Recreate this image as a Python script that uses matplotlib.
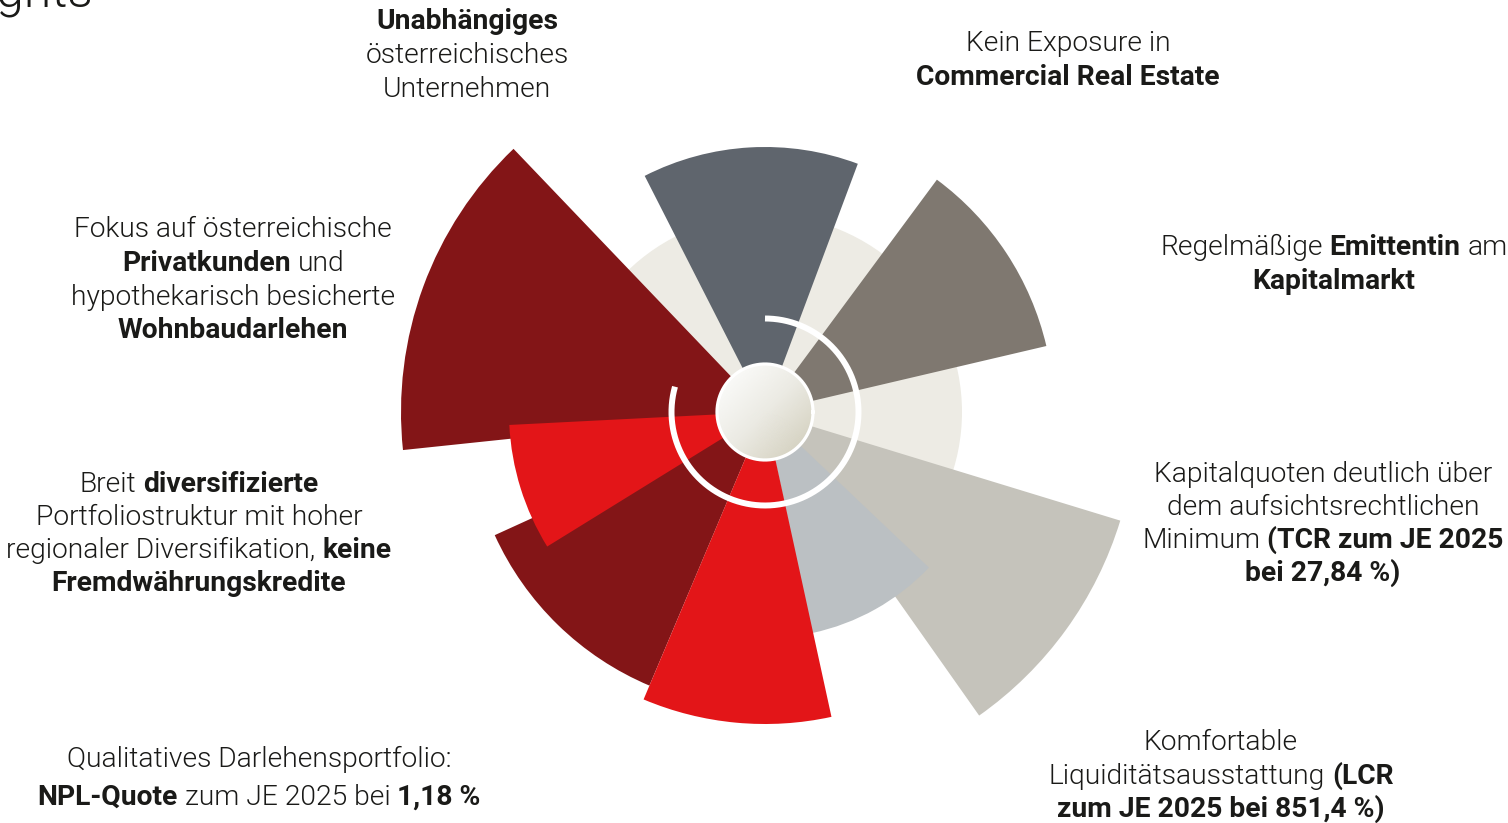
import os
import numpy as np
import matplotlib
matplotlib.use("Agg")
import matplotlib.pyplot as plt
from matplotlib import font_manager as fm
from matplotlib.colors import LinearSegmentedColormap

# ---------------- data ----------------
segment_names = ["Unabhängig", "Kapitalmarkt", "Kapitalquoten", "Liquidität",
                 "Privatkunden", "Diversifikation", "NPL-Quote", "Regionen"]
segment_start_deg = [69.5, 13.2, -54.8, -78.0, 133.7, 204.5, 247.1, 182.9]
segment_end_deg = [117.0, 53.5, -17.0, -43.5, 186.0, 247.1, 282.3, 211.7]
segment_radius = [265, 289, 371.5, 226, 364, 297, 312, 256]
backdrop_radius = 197
hub_radius = 48
ring_radius = 93.5
ring_start_deg, ring_end_deg = 164.3, 450.0

title_text = "Highlights"
label_unabhaengig = ["**Unabhängiges**", "österreichisches", "Unternehmen"]
label_exposure = ["Kein Exposure in", "**Commercial Real Estate**"]
label_emittentin = ["Regelmäßige **Emittentin** am", "**Kapitalmarkt**"]
label_kapital = ["Kapitalquoten deutlich über", "dem aufsichtsrechtlichen",
                 "Minimum **(TCR zum JE 2025**", "**bei 27,84 %)**"]
label_liquiditaet = ["Komfortable", "Liquiditätsausstattung **(LCR**",
                     "**zum JE 2025 bei 851,4 %)**"]
label_npl = ["Qualitatives Darlehensportfolio:",
             "**NPL-Quote** zum JE 2025 bei **1,18 %**"]
label_divers = ["Breit **diversifizierte**", "Portfoliostruktur mit hoher",
                "regionaler Diversifikation, **keine**", "**Fremdwährungskredite**"]
label_fokus = ["Fokus auf österreichische", "**Privatkunden** und",
               "hypothekarisch besicherte", "**Wohnbaudarlehen**"]

# ---------------- style / layout ----------------
segment_colors = ["#5f656d", "#7f7870", "#c5c3bb", "#bbc0c3",
                  "#831517", "#831517", "#e31518", "#e31518"]
backdrop_color = "#edebe4"
text_color = "#1a1a18"
FAMILY = ["Roboto", "DejaVu Sans"]
FS = 20.3

W, H, DPI = 1508, 823, 100
CX, CY, R = 765, 412, 400  # chart centre in pixels, axes half size


def roboto(tag, weight, size):
    for f in fm.findSystemFonts():
        b = os.path.splitext(os.path.basename(f))[0].lower()
        if b == "roboto-" + tag:
            return fm.FontProperties(fname=f, size=size)
    return fm.FontProperties(family=FAMILY, weight=weight, size=size)


FONTS = {"light": roboto("light", "light", FS), "bold": roboto("bold", "bold", FS)}
TITLE_FONT = roboto("light", "light", 36)

fig = plt.figure(figsize=(W / DPI, H / DPI), dpi=DPI)
fig.patch.set_facecolor("white")

ax = fig.add_axes([(CX - R) / W, (H - CY - R) / H, 2 * R / W, 2 * R / H],
                  projection="polar")
ax.set_ylim(0, R)
ax.set_axis_off()

# backdrop disk
ax.bar(0, backdrop_radius, width=2 * np.pi, bottom=0, color=backdrop_color,
       edgecolor="none", linewidth=0, align="center")

start = np.deg2rad(segment_start_deg)
end = np.deg2rad(segment_end_deg)
ax.bar((start + end) / 2, segment_radius, width=end - start, bottom=0,
       color=segment_colors, edgecolor="none", linewidth=0, align="center")

# gradient hub
th = np.linspace(0, 2 * np.pi, 361)
rr = np.linspace(0, hub_radius, 40)
TH, RR = np.meshgrid(th, rr)
X, Y = RR * np.cos(TH), RR * np.sin(TH)
proj = (X - Y) / (np.sqrt(2) * hub_radius)
hub_cmap = LinearSegmentedColormap.from_list("hub", ["#fafaf8", "#ecebe4", "#d7d4c4"])
ax.pcolormesh(TH, RR, proj, cmap=hub_cmap, vmin=-1, vmax=1, shading="gouraud",
              zorder=5)
ax.plot(th, np.full_like(th, hub_radius), color="white", lw=2.3, zorder=6)

# white ring
ring_th = np.deg2rad(np.linspace(ring_start_deg, ring_end_deg, 500))
ax.plot(ring_th, np.full_like(ring_th, ring_radius), color="white", lw=4.3,
        solid_capstyle="butt", zorder=6)
ax.set_ylim(0, R)

# ---------------- text ----------------
renderer = fig.canvas.get_renderer()
_cache = {}


def tw(s, weight):
    key = (s, weight)
    if key not in _cache:
        t = fig.text(0, 0, s, fontproperties=FONTS[weight])
        _cache[key] = t.get_window_extent(renderer).width
        t.remove()
    return _cache[key]


def space_w(weight):
    return tw("n n", weight) - tw("nn", weight)


def parse(line):
    parts = line.split("**")
    segs = []
    for i, p in enumerate(parts):
        p = p.strip()
        if p:
            segs.append((p, "bold" if i % 2 else "light"))
    return segs


def rich_line(line, cx, base_y):
    segs = parse(line)
    widths = [tw(s, w) for s, w in segs]
    gaps = [space_w(segs[i][1]) for i in range(len(segs) - 1)]
    total = sum(widths) + sum(gaps)
    x = cx - total / 2
    for i, ((s, w), wd) in enumerate(zip(segs, widths)):
        fig.text(x / W, 1 - base_y / H, s, fontproperties=FONTS[w],
                 color=text_color, ha="left", va="baseline")
        x += wd + (gaps[i] if i < len(gaps) else 0)


layout = [
    (label_unabhaengig, 467, [29, 63, 97]),
    (label_exposure, 1068, [51, 85]),
    (label_emittentin, 1334, [255, 289]),
    (label_kapital, 1323, [482, 515, 548, 581]),
    (label_liquiditaet, 1221, [750, 784, 817]),
    (label_npl, 259, [767, 805]),
    (label_divers, 199, [492, 525, 558, 591]),
    (label_fokus, 233, [237, 271, 305, 338]),
]
for lines, cx, ys in layout:
    for line, y in zip(lines, ys):
        rich_line(line, cx, y)

fig.text(93 / W, 1 - 7 / H, title_text, fontproperties=TITLE_FONT,
         color=text_color, ha="right", va="baseline")

fig.savefig("out.png", dpi=DPI, facecolor="white")
